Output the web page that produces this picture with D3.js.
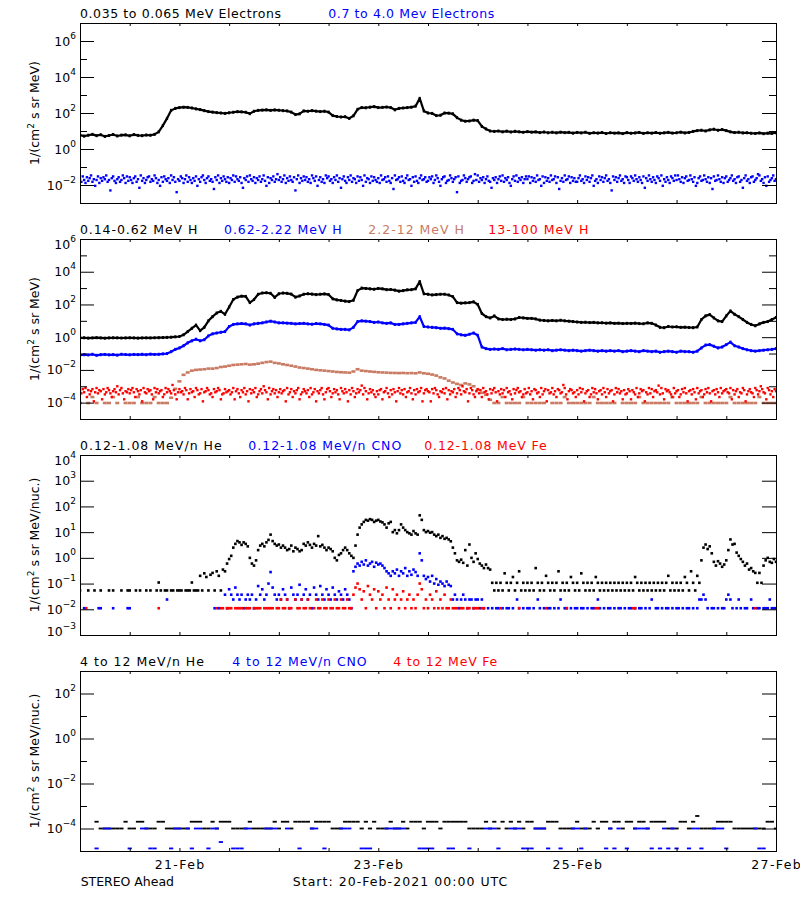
<!DOCTYPE html>
<html>
<head>
<meta charset="utf-8">
<script src="https://cdn.jsdelivr.net/npm/d3@7/dist/d3.min.js"></script>
<style>
html,body{margin:0;padding:0;background:#fff}
svg{display:block}
text{font-family:"DejaVu Sans",sans-serif;font-size:12.5px}
</style>
</head>
<body>
<svg id="chart" width="800" height="900"></svg>
<script>
// ================= DATA =================
const startMs = Date.UTC(2021, 1, 20, 0, 0);   // Start: 20-Feb-2021 00:00 UTC
const HOUR = 3600e3;

// x-axis tick labels
const xTickLabels = ["21-Feb", "23-Feb", "25-Feb", "27-Feb"];
const xTickDays = [21, 23, 25, 27];

// y tick label exponents per panel
const p1TickExps = [6, 4, 2, 0, -2];
const p2TickExps = [6, 4, 2, 0, -2, -4];
const p3TickExps = [4, 3, 2, 1, 0, -1, -2, -3];
const p4TickExps = [2, 0, -2, -4];

// series names
const p1Names = ["0.035 to 0.065 MeV Electrons", "0.7 to 4.0 Mev Electrons"];
const p2Names = ["0.14-0.62 MeV H", "0.62-2.22 MeV H", "2.2-12 MeV H", "13-100 MeV H"];
const p3Names = ["0.12-1.08 MeV/n He", "0.12-1.08 MeV/n CNO", "0.12-1.08 MeV Fe"];
const p4Names = ["4 to 12 MeV/n He", "4 to 12 MeV/n CNO", "4 to 12 MeV Fe"];

// ---- Panel 1: electrons, 1/(cm2 s sr MeV) ----
// 0.035-0.065 MeV electrons, hourly (h0..h168)
const eLow = [
 6.0,5.2,5.8,6.5,5.5,6.2,5.0,5.6,6.4,5.3,5.9,6.1,
 5.4,6.3,5.7,5.5,6.0,5.8,6.5,9,20,50,140,180,
 200,210,205,190,170,155,135,120,112,105,100,95,
 103,110,118,115,110,92,125,140,145,150,140,148,
 142,135,130,112,82,90,130,125,135,126,120,125,
 112,72,64,60,62,50,70,160,200,195,210,225,
 200,205,215,200,150,180,190,200,210,240,650,130,
 100,95,72,75,100,98,90,55,40,35,36,40,
 38,18,13,10,9.5,10,9,9.8,8.8,9.6,9,8.5,
 9.2,8.6,9,8.2,8.8,8,8.5,7.9,8.6,8.1,8.4,7.6,
 8.3,7.8,8.5,7.4,8,7.7,8.2,7.3,8,7.6,7.9,7.2,
 8.1,7.5,7.8,8.3,7.4,8,7.6,8.2,7.5,7.9,8.4,7.7,
 8,8.6,7.8,8.3,9.5,10.5,11,10,11.5,12.5,11,12,
 10.5,9,8.2,8.5,7.8,8,7.5,7.3,7.8,7.1,7.6,7.4,
 8];
// 0.7-4.0 MeV electrons, 20-min (noisy background)
const eHigh = [
 .021,.015,.03,.019,.013,.027,.017,.024,.034,.015,.021,.009,.019,.03,.013,.024,.017,.027,.021,.034,.015,.019,.005,.024,.03,.017,.013,.021,.027,.015,.019,.034,.024,.013,.03,.017,
 .027,.019,.013,.024,.03,.015,.021,.007,.034,.017,.024,.013,.019,.027,.03,.015,.021,.017,.034,.024,.013,.019,.009,.027,.015,.03,.021,.017,.024,.013,.034,.019,.027,.015,.004,.021,
 .017,.03,.024,.013,.021,.034,.015,.027,.019,.013,.024,.017,.03,.009,.021,.015,.027,.034,.019,.013,.024,.03,.017,.021,.015,.006,.027,.019,.034,.013,.024,.017,.03,.021,.015,.027,
 .013,.024,.019,.034,.015,.03,.021,.017,.027,.013,.007,.024,.019,.03,.015,.034,.021,.017,.027,.013,.024,.019,.03,.015,.021,.034,.017,.009,.027,.013,.024,.019,.03,.015,.021,.04,
 .019,.027,.015,.021,.034,.013,.024,.017,.03,.019,.015,.027,.005,.021,.034,.013,.024,.017,.03,.019,.027,.015,.021,.013,.034,.024,.017,.03,.009,.019,.027,.015,.021,.013,.034,.024,
 .03,.017,.021,.013,.027,.019,.034,.015,.024,.007,.021,.03,.017,.013,.027,.019,.034,.015,.024,.021,.013,.03,.017,.027,.019,.009,.034,.015,.024,.021,.013,.03,.017,.027,.019,.015,
 .024,.013,.034,.019,.021,.027,.015,.03,.017,.013,.024,.006,.034,.019,.021,.027,.015,.03,.017,.013,.024,.034,.019,.021,.009,.027,.015,.03,.017,.013,.024,.034,.019,.021,.027,.015,
 .017,.027,.021,.03,.013,.019,.034,.024,.015,.009,.021,.027,.03,.013,.017,.019,.034,.024,.015,.021,.027,.004,.03,.013,.017,.019,.034,.024,.015,.021,.027,.03,.013,.017,.04,.019,
 .034,.015,.024,.019,.027,.013,.021,.03,.017,.015,.007,.024,.019,.027,.013,.021,.03,.017,.034,.015,.024,.019,.027,.013,.009,.021,.03,.017,.034,.015,.024,.019,.027,.013,.021,.03,
 .021,.03,.013,.027,.017,.024,.015,.034,.019,.021,.009,.03,.013,.027,.017,.024,.015,.034,.019,.021,.03,.013,.027,.006,.017,.024,.015,.034,.019,.021,.03,.013,.027,.017,.024,.015,
 .015,.024,.034,.017,.021,.013,.03,.019,.027,.015,.024,.034,.009,.017,.021,.013,.03,.019,.027,.015,.024,.034,.017,.021,.013,.005,.03,.019,.027,.015,.024,.034,.017,.021,.013,.03,
 .027,.019,.013,.03,.024,.017,.034,.021,.015,.027,.019,.013,.03,.007,.024,.017,.034,.021,.015,.027,.019,.013,.03,.024,.017,.034,.009,.021,.015,.027,.019,.013,.03,.024,.017,.034,
 .019,.034,.021,.015,.027,.013,.024,.03,.017,.019,.034,.021,.015,.027,.009,.013,.024,.03,.017,.019,.034,.021,.015,.027,.013,.024,.006,.03,.017,.019,.034,.021,.015,.027,.013,.024,
 .03,.015,.019,.024,.034,.017,.021,.013,.027,.03,.015,.019,.007,.024,.034,.017,.021,.013,.027,.03,.015,.019,.024,.04,.034,.017,.021,.013,.027,.009,.03,.015,.019,.024,.034,.017,
 .021];

// ---- Panel 2: protons, 1/(cm2 s sr MeV) ----
// 0.14-0.62 MeV H, hourly
const hLow = [
 .9,.92,.88,.9,.93,.9,.87,.9,.92,.91,.89,.9,
 .92,.9,.88,.9,.91,.9,.92,.93,.95,.97,1,1.05,
 1.1,1.4,2.2,3.5,5.5,2.5,4,10,18,30,38,25,
 70,200,280,320,310,130,200,420,500,520,480,270,
 450,500,480,430,280,330,420,450,430,400,420,440,
 400,220,190,175,160,150,180,700,1000,950,900,850,
 950,900,800,820,750,650,700,780,800,900,2500,450,
 420,380,400,420,420,380,300,130,120,125,130,145,
 100,28,18,15,20,13,12,12.5,12,13,16,15,
 14,14,13,11,10.5,10,10.5,10,10.8,10,9.5,9,
 8.5,8,8.2,7.8,8,7.5,7.6,7.2,7.5,7,7.2,6.8,
 7,6.9,7.2,6.8,6.6,7.5,7,5.5,4,3.8,4.5,4.2,
 4.3,4,4.1,3.9,3.8,4.2,12,20,24,15,10,9,
 20,40,25,18,12,8,6,5,6.5,8,9,12,
 16];
// 0.62-2.22 MeV H, hourly
const hMid = [
 .08,.085,.082,.09,.078,.085,.088,.083,.086,.08,.09,.087,
 .084,.088,.086,.09,.085,.092,.088,.09,.095,.1,.13,.18,
 .22,.3,.45,.6,.75,.6,.7,1.2,1.6,1.8,2,2.2,
 4.5,6,6.5,6.8,6.5,5.5,6.5,7,7.5,8.5,9.5,8.5,
 7.5,7.5,7.2,7,6.5,6.8,7,6.5,6.2,6.8,6.5,6,
 5.5,3.5,3.2,3,3,2.8,4,9,10,9.5,9,8,
 8.5,7.5,7,7.5,6,6,6.5,7,7.5,8,18,4.5,
 4.2,4,3.8,3.5,3.6,3.3,3,1.6,1.4,1.3,1.5,1.8,
 1.3,.25,.2,.18,.19,.18,.2,.17,.18,.19,.18,.17,
 .18,.17,.16,.17,.16,.17,.15,.16,.17,.16,.15,.16,
 .15,.14,.15,.16,.15,.14,.15,.14,.15,.14,.15,.13,
 .14,.15,.14,.13,.15,.14,.13,.14,.12,.13,.14,.13,
 .12,.14,.13,.13,.12,.14,.22,.33,.35,.28,.22,.25,
 .35,.5,.3,.25,.2,.17,.15,.14,.15,.16,.17,.18,
 .2];
// 2.2-12 MeV H, hourly
const hHigh = [
 9.5e-5,0,9.5e-5,2.2e-4,9.5e-5,0,9.5e-5,9.5e-5,2.2e-4,9.5e-5,0,9.5e-5,
 9.5e-5,9.5e-5,2.2e-4,9.5e-5,9.5e-5,9.5e-5,2.2e-4,9.5e-5,9.5e-5,9.5e-5,2e-4,7e-4,
 2e-3,5e-3,7e-3,9e-3,.01,.0105,.011,.012,.012,.013,.015,.016,
 .018,.02,.021,.022,.023,.021,.022,.024,.027,.03,.032,.027,
 .025,.022,.02,.018,.016,.014,.013,.012,.011,.01,.0095,.009,
 .0085,.008,.0075,.0072,.007,.0068,.008,.011,.009,.0085,.008,.0076,
 .0072,.007,.0068,.0066,.0065,.0064,.0065,.0063,.0064,.0062,.007,.0062,
 .0058,.0052,.0045,.0035,.003,.0022,.0017,.0014,.0012,.0015,.0013,.001,
 6e-4,4e-4,3e-4,1.5e-4,9.5e-5,9.5e-5,2.2e-4,9.5e-5,9.5e-5,9.5e-5,9.5e-5,2.2e-4,
 9.5e-5,9.5e-5,9.5e-5,9.5e-5,9.5e-5,0,9.5e-5,9.5e-5,9.5e-5,2.2e-4,9.5e-5,9.5e-5,
 9.5e-5,9.5e-5,9.5e-5,9.5e-5,2.2e-4,9.5e-5,9.5e-5,9.5e-5,9.5e-5,9.5e-5,0,9.5e-5,
 9.5e-5,9.5e-5,9.5e-5,2.2e-4,9.5e-5,9.5e-5,9.5e-5,9.5e-5,9.5e-5,9.5e-5,9.5e-5,2.2e-4,
 9.5e-5,9.5e-5,9.5e-5,9.5e-5,9.5e-5,9.5e-5,2.2e-4,9.5e-5,9.5e-5,9.5e-5,9.5e-5,9.5e-5,
 9.5e-5,2.2e-4,9.5e-5,9.5e-5,9.5e-5,9.5e-5,9.5e-5,9.5e-5,2.2e-4,9.5e-5,9.5e-5,9.5e-5,
 9.5e-5];
// 13-100 MeV H, 20-min (noisy background)
const hVHigh = [
 5e-4,3.7e-4,6.7e-4,4.3e-4,7.8e-4,2.2e-4,5.8e-4,3.2e-4,5e-4,6.7e-4,1.2e-4,4.3e-4,7.8e-4,3.7e-4,5.8e-4,5e-4,1.6e-4,6.7e-4,3.2e-4,4.3e-4,7.8e-4,5.8e-4,3.7e-4,2.2e-4,5e-4,6.7e-4,4.3e-4,1e-3,3.2e-4,5.8e-4,7.8e-4,3.7e-4,1.6e-4,5e-4,4.3e-4,6.7e-4,
 3.7e-4,5.8e-4,7.8e-4,4.3e-4,2.2e-4,6.7e-4,5e-4,3.2e-4,5.8e-4,1.2e-4,7.8e-4,4.3e-4,3.7e-4,6.7e-4,5e-4,5.8e-4,3.2e-4,1.6e-4,7.8e-4,4.3e-4,6.7e-4,3.7e-4,5e-4,5.8e-4,2.2e-4,3.2e-4,7.8e-4,4.3e-4,6.7e-4,5e-4,3.7e-4,1.2e-3,5.8e-4,3.2e-4,1.6e-4,4.3e-4,
 6.7e-4,4.3e-4,5e-4,3.2e-4,7.8e-4,5.8e-4,1.6e-4,3.7e-4,6.7e-4,4.3e-4,5e-4,2.2e-4,7.8e-4,5.8e-4,3.2e-4,3.7e-4,6.7e-4,1.2e-4,4.3e-4,5e-4,7.8e-4,5.8e-4,3.2e-4,3.7e-4,2.2e-4,6.7e-4,4.3e-4,5e-4,7.8e-4,5.8e-4,1.6e-4,3.2e-4,3.7e-4,6.7e-4,4.3e-4,5e-4,
 5.8e-4,3.2e-4,4.3e-4,7.8e-4,1.6e-4,5e-4,6.7e-4,3.7e-4,2.2e-4,5.8e-4,4.3e-4,7.8e-4,3.2e-4,5e-4,1.2e-4,6.7e-4,3.7e-4,5.8e-4,4.3e-4,7.8e-4,2.2e-4,3.2e-4,5e-4,6.7e-4,3.7e-4,1e-3,5.8e-4,4.3e-4,1.6e-4,7.8e-4,3.2e-4,5e-4,6.7e-4,3.7e-4,5.8e-4,2.2e-4,
 4.3e-4,6.7e-4,3.7e-4,5e-4,5.8e-4,1.2e-4,7.8e-4,3.2e-4,4.3e-4,6.7e-4,2.2e-4,5e-4,3.7e-4,5.8e-4,7.8e-4,1.6e-4,3.2e-4,4.3e-4,6.7e-4,5e-4,3.7e-4,5.8e-4,2.2e-4,7.8e-4,3.2e-4,4.3e-4,6.7e-4,1.2e-4,5e-4,3.7e-4,5.8e-4,7.8e-4,3.2e-4,1.6e-4,4.3e-4,6.7e-4,
 7.8e-4,5e-4,2.2e-4,3.7e-4,6.7e-4,4.3e-4,5.8e-4,3.2e-4,1.6e-4,7.8e-4,5e-4,3.7e-4,6.7e-4,4.3e-4,1.2e-4,5.8e-4,3.2e-4,7.8e-4,5e-4,2.2e-4,3.7e-4,6.7e-4,4.3e-4,5.8e-4,1.1e-3,3.2e-4,7.8e-4,5e-4,1.6e-4,3.7e-4,6.7e-4,4.3e-4,5.8e-4,3.2e-4,2.2e-4,5e-4,
 3.2e-4,5.8e-4,6.7e-4,1.6e-4,4.3e-4,5e-4,7.8e-4,3.7e-4,2.2e-4,5.8e-4,3.2e-4,6.7e-4,4.3e-4,1.2e-4,5e-4,7.8e-4,3.7e-4,5.8e-4,3.2e-4,6.7e-4,2.2e-4,4.3e-4,5e-4,7.8e-4,3.7e-4,1.6e-4,5.8e-4,3.2e-4,6.7e-4,4.3e-4,5e-4,7.8e-4,1.2e-4,3.7e-4,5.8e-4,6.7e-4,
 5e-4,4.3e-4,1.2e-4,6.7e-4,3.7e-4,7.8e-4,5.8e-4,3.2e-4,2.2e-4,5e-4,4.3e-4,6.7e-4,3.7e-4,7.8e-4,1.6e-4,5.8e-4,3.2e-4,5e-4,4.3e-4,6.7e-4,2.2e-4,3.7e-4,7.8e-4,5.8e-4,3.2e-4,1e-3,5e-4,4.3e-4,6.7e-4,1.2e-4,3.7e-4,7.8e-4,5.8e-4,3.2e-4,2.2e-4,5e-4,
 6.7e-4,3.7e-4,5.8e-4,2.2e-4,7.8e-4,4.3e-4,5e-4,3.2e-4,1.6e-4,6.7e-4,3.7e-4,5.8e-4,7.8e-4,4.3e-4,1.2e-4,5e-4,3.2e-4,6.7e-4,3.7e-4,5.8e-4,2.2e-4,7.8e-4,4.3e-4,5e-4,3.2e-4,1.6e-4,6.7e-4,3.7e-4,5.8e-4,7.8e-4,4.3e-4,5e-4,2.2e-4,3.2e-4,6.7e-4,3.7e-4,
 4.3e-4,7.8e-4,3.2e-4,5e-4,1.6e-4,6.7e-4,5.8e-4,3.7e-4,4.3e-4,2.2e-4,7.8e-4,3.2e-4,5e-4,6.7e-4,1.2e-4,5.8e-4,3.7e-4,4.3e-4,7.8e-4,3.2e-4,5e-4,2.2e-4,6.7e-4,5.8e-4,3.7e-4,4.3e-4,1.2e-3,7.8e-4,3.2e-4,1.6e-4,5e-4,6.7e-4,5.8e-4,3.7e-4,4.3e-4,2.2e-4,
 5.8e-4,3.2e-4,7.8e-4,4.3e-4,6.7e-4,1.2e-4,3.7e-4,5e-4,5.8e-4,2.2e-4,3.2e-4,7.8e-4,4.3e-4,6.7e-4,3.7e-4,1.6e-4,5e-4,5.8e-4,3.2e-4,7.8e-4,4.3e-4,2.2e-4,6.7e-4,3.7e-4,5e-4,5.8e-4,1.2e-4,3.2e-4,7.8e-4,4.3e-4,6.7e-4,3.7e-4,5e-4,1.6e-4,5.8e-4,3.2e-4,
 3.7e-4,6.7e-4,5e-4,1.6e-4,5.8e-4,4.3e-4,3.2e-4,7.8e-4,2.2e-4,3.7e-4,6.7e-4,5e-4,5.8e-4,1.2e-4,4.3e-4,3.2e-4,7.8e-4,3.7e-4,6.7e-4,2.2e-4,5e-4,5.8e-4,4.3e-4,1.1e-3,3.2e-4,7.8e-4,3.7e-4,1.6e-4,6.7e-4,5e-4,5.8e-4,4.3e-4,3.2e-4,2.2e-4,7.8e-4,3.7e-4,
 5e-4,5.8e-4,2.2e-4,3.2e-4,6.7e-4,4.3e-4,7.8e-4,3.7e-4,1.2e-4,5e-4,5.8e-4,3.2e-4,6.7e-4,4.3e-4,1.6e-4,7.8e-4,3.7e-4,5e-4,5.8e-4,2.2e-4,3.2e-4,6.7e-4,4.3e-4,7.8e-4,3.7e-4,1.2e-4,5e-4,5.8e-4,3.2e-4,6.7e-4,4.3e-4,2.2e-4,7.8e-4,3.7e-4,5e-4,5.8e-4,
 6.7e-4,4.3e-4,3.7e-4,7.8e-4,1.6e-4,5.8e-4,3.2e-4,5e-4,6.7e-4,2.2e-4,4.3e-4,3.7e-4,7.8e-4,5.8e-4,1.2e-4,3.2e-4,5e-4,6.7e-4,4.3e-4,3.7e-4,2.2e-4,7.8e-4,5.8e-4,3.2e-4,5e-4,1e-3,6.7e-4,4.3e-4,3.7e-4,1.6e-4,7.8e-4,5.8e-4,3.2e-4,5e-4,2.2e-4,6.7e-4,
 5e-4];

// ---- Panel 3: 0.12-1.08 MeV/n ions, 30-min (0 = no counts) ----
const he012 = [
 .054,0,0,0,.054,0,0,.054,0,0,.054,0,0,0,.054,0,.054,0,0,0,.054,0,0,.054,
 .054,0,0,.054,0,.054,0,0,.054,0,.054,0,0,.054,.11,.054,0,.054,.054,0,.054,.054,0,.054,
 .054,.054,0,.054,.054,.054,.11,.054,.054,.054,.2,.054,.25,.18,.054,.22,.26,.054,.3,.2,.054,.35,.3,.6,
 .9,1.2,2.5,3.5,4.5,4,3.2,4,3.5,2.8,1,.6,.5,.8,2,3,3.5,2.8,4,5,8,4.5,3.5,3,
 3.3,2.5,3,2.5,2,2.2,3,1.8,2.5,2.2,1.8,2,3.5,3,4,3.2,2.5,3.5,3,7,2.8,3.2,2.5,2,
 2.5,2.2,1.8,1,.8,1.3,1.5,2,2.5,2,1.5,1.2,1,3,8,15,20,25,30,28,32,30,25,28,
 30,26,24,20,15,22,25,10,12,9,12,20,15,12,10,9,8,11,9,8,45,30,12,10,
 11,9.5,10,8,7,8,6,7,5.5,6,5.2,4.4,2.5,1.5,.8,.7,.85,.64,2,.5,3.3,1,.7,1.5,
 .9,.6,.5,.4,.55,.4,.35,.107,.054,.107,.054,.107,.054,.25,.107,.054,.107,.18,.054,.107,.3,.054,.107,.054,
 .107,.054,.107,.054,.4,.107,.054,.107,.054,.2,.107,.054,.107,.054,.107,.3,.054,.107,.054,.107,.054,.18,.107,.054,
 .107,.054,.25,.107,.054,.107,.054,.107,.054,.18,.107,.054,.107,.054,.107,.054,.107,.054,.107,.054,.107,.054,.107,.054,
 .107,.054,.107,.054,.18,.107,.054,.107,.054,.107,.054,.107,.054,.107,.054,.107,.054,.107,.054,.107,.2,.054,.107,.054,
 .107,.054,.107,.054,.18,.107,.054,.3,.107,.054,.2,.107,.8,2.5,3.3,2.2,2.8,1.5,.7,.5,.74,.6,.45,.55,
 .8,2,5.2,3.3,3.5,1.6,1.2,.9,.7,.5,.6,.35,.4,.3,.26,.107,.26,.107,.5,.8,1,.7,.64,.9,
 .7];
const cno012 = [
 0,0,.011,0,0,0,0,0,0,.011,.011,0,0,0,0,0,.011,0,0,0,0,0,0,.011,
 .011,0,0,0,0,0,0,0,0,0,0,0,0,0,0,0,0,0,.024,0,0,0,0,0,
 0,0,0,0,0,0,0,0,0,0,0,0,0,0,0,0,0,.011,0,.011,0,0,.037,.011,
 .06,.037,.024,.07,.037,.024,.037,.011,.024,.037,.024,.037,.011,.024,.08,.037,.06,.024,.037,.1,.28,.07,.037,.024,
 .037,.024,.06,.037,.024,.011,.07,.037,.024,.037,.09,.024,.037,.06,.024,.037,.011,.07,.037,.024,.08,.037,.024,.06,
 .037,.024,.07,.037,.024,.05,.037,.024,.06,.037,.024,.011,.3,.45,.6,.5,.7,.55,.8,.5,.6,.7,.45,.65,
 .55,.6,.5,.4,.3,.25,.2,.3,.25,.35,.2,.3,.25,.4,.2,.3,.22,.35,.28,.2,1.5,.8,.2,.15,
 .18,.12,.2,.1,.15,.09,.12,.1,.08,.12,.09,.08,.024,.037,.024,.011,.024,.037,.024,.011,.024,.024,.011,.024,
 .024,.011,.024,.011,0,.011,0,.011,0,.011,.011,0,.011,0,.011,.011,0,.011,0,.024,.011,0,.011,0,
 .011,.011,0,.011,0,.024,.011,0,.011,0,.011,.011,0,.011,0,.011,.024,0,.011,.011,0,.011,0,.011,
 .011,0,.011,.011,0,.011,0,.011,.011,0,.024,.011,0,.011,0,.011,.011,0,.011,0,.011,.011,0,.011,
 0,.011,.011,0,.011,0,.011,.011,0,.011,0,.011,.024,0,.011,.011,0,.011,0,.011,.011,0,.011,0,
 .011,.011,0,.011,0,.011,.011,0,.011,0,.011,.024,.024,.037,.024,.011,0,.011,.011,0,.011,0,.011,.011,
 .024,.037,.024,.011,0,.011,.024,.011,0,.011,.011,0,.024,.011,0,.011,.011,0,.011,.011,.011,.024,.011,.011,
 .011];
const fe012 = [
 0,0,0,.011,0,0,0,0,0,0,0,0,0,0,0,0,0,0,0,0,0,0,0,0,
 0,0,0,0,0,0,0,0,0,0,0,0,0,0,.011,0,0,0,0,0,0,0,0,0,
 0,0,0,0,0,0,0,0,0,0,0,0,0,0,0,0,0,0,.011,0,.011,.011,0,.011,
 .011,.011,0,.011,.011,.011,.011,0,.011,.011,.011,0,.011,.011,.011,.011,0,.011,.011,.011,.011,.011,0,.011,
 .011,.024,.011,.011,.024,.011,.011,0,.024,.011,.011,.024,.011,.011,.024,.011,0,.011,.024,.011,.011,.024,.011,.011,
 .024,.011,.011,.024,.011,.011,.024,.011,.011,.024,.011,.011,.037,.07,.1,.06,.024,.05,.011,.08,.037,.024,.06,.011,
 .05,.024,.037,.011,.07,.024,.011,.06,.024,.037,.011,.024,.05,.011,.024,.037,.011,.024,.011,.037,.1,.06,.011,.024,
 .011,.037,.024,.011,.05,.011,.024,.011,.037,.011,.011,.024,.011,.011,.011,0,.011,.011,0,.011,.011,0,.011,.011,
 .011,0,.011,.011,0,0,0,0,0,0,0,.011,0,0,0,0,0,0,0,0,.011,0,0,0,
 0,0,0,0,0,0,0,0,0,.011,0,0,0,0,0,0,0,0,0,.011,0,0,0,0,
 0,0,0,0,0,0,0,0,0,.011,.011,0,0,0,0,0,0,0,0,0,0,0,0,0,
 0,0,0,.011,.011,0,0,0,0,0,0,0,0,0,0,0,0,0,0,0,0,0,0,0,
 0,0,0,0,0,0,0,0,0,0,0,0,0,0,0,0,0,0,0,0,0,0,0,0,
 0,0,0,0,0,0,0,0,0,0,0,0,0,0,.011,0,0,0,0,0,0,0,0,0,
 0];

// ---- Panel 4: 4-12 MeV/n ions, hourly (0 = no counts) ----
const he412 = [
 0,0,0,0,2e-4,1e-4,1e-4,1e-4,1e-4,1e-4,1e-4,2e-4,
 1e-4,1e-4,2e-4,2e-4,1e-4,1e-4,1e-4,2e-4,2e-4,1e-4,1e-4,1e-4,
 1e-4,1e-4,1e-4,2e-4,2e-4,2e-4,1e-4,1e-4,2e-4,1e-4,2e-4,2e-4,
 2e-4,1e-4,1e-4,1e-4,1e-4,2e-4,1e-4,1e-4,1e-4,1e-4,1e-4,2e-4,
 1e-4,2e-4,2e-4,1e-4,2e-4,2e-4,2e-4,2e-4,1e-4,2e-4,2e-4,2e-4,
 2e-4,1e-4,1e-4,1e-4,2e-4,2e-4,2e-4,2e-4,1e-4,2e-4,1e-4,2e-4,
 1e-4,1e-4,1e-4,2e-4,1e-4,1e-4,2e-4,1e-4,2e-4,2e-4,2e-4,1e-4,
 2e-4,2e-4,2e-4,1e-4,2e-4,2e-4,2e-4,2e-4,2e-4,2e-4,1e-4,1e-4,
 1e-4,1e-4,2e-4,1e-4,2e-4,1e-4,2e-4,1e-4,2e-4,1e-4,2e-4,1e-4,
 2e-4,2e-4,1e-4,1e-4,1e-4,2e-4,2e-4,2e-4,1e-4,1e-4,1e-4,1e-4,
 2e-4,1e-4,1e-4,1e-4,2e-4,1e-4,2e-4,2e-4,1e-4,2e-4,2e-4,1e-4,
 2e-4,2e-4,1e-4,2e-4,2e-4,1e-4,2e-4,2e-4,2e-4,2e-4,1e-4,1e-4,
 1e-4,2e-4,2e-4,1e-4,2e-4,3.6e-4,1e-4,1e-4,1e-4,1e-4,2e-4,2e-4,
 2e-4,2e-4,1e-4,1e-4,1e-4,1e-4,1e-4,1e-4,1e-4,1e-4,2e-4,2e-4,
 1e-4];
const cno412 = [
 0,0,0,0,1.3e-5,0,1e-4,1e-4,0,0,0,0,
 1.3e-5,0,0,1e-4,1e-4,1.3e-5,1.3e-5,0,0,0,1.3e-5,1e-4,
 1e-4,0,1e-4,1.3e-5,1e-4,1e-4,0,1.3e-5,1e-4,1e-4,2.5e-5,0,
 0,1.3e-5,1.3e-5,1.3e-5,1e-4,1e-4,0,0,0,1e-4,1e-4,1e-4,
 0,0,1e-4,0,0,1.3e-5,0,0,1e-4,1e-4,0,1.3e-5,
 0,0,0,1e-4,1e-4,1e-4,0,0,1.3e-5,1.3e-5,1.3e-5,0,
 0,0,1e-4,1e-4,1e-4,1e-4,1e-4,0,0,0,1.3e-5,1.3e-5,
 1.3e-5,1.3e-5,0,0,0,1.3e-5,1.3e-5,0,0,0,1.3e-5,0,
 0,0,1e-4,1e-4,1e-4,1.3e-5,0,0,1e-4,1e-4,1e-4,1.3e-5,
 1.3e-5,1.3e-5,1e-4,1e-4,1e-4,1.3e-5,0,0,1.3e-5,0,0,1e-4,
 1e-4,1.3e-5,1e-4,0,0,0,0,1.3e-5,1e-4,1.3e-5,1e-4,0,
 1.3e-5,0,1e-4,1e-4,1e-4,1e-4,1.3e-5,0,1.3e-5,1e-4,1.3e-5,1e-4,
 1.3e-5,0,0,1.3e-5,1e-4,1e-4,1.3e-5,0,0,1e-4,1e-4,1e-4,
 1.3e-5,0,0,0,0,0,0,1e-4,1.3e-5,1.3e-5,0,0,
 0];
const fe412 = [];   // no counts above the plotted range

// ================= LAYOUT / STYLE =================
const COL = {black: "#000000", blue: "#0000ff", brown: "#c97b63", red: "#ff0000"};
const X0 = 80, X1 = 776, PH = 180;

const panels = [
  { top: 23, domain: [1e-3, 1e7], majors: [-2, 0, 2, 4, 6], minors: [-1, 1, 3, 5], labels: p1TickExps,
    unit: " s sr MeV)", names: p1Names, nameX: [80, 328.3], nameW: [201, 166],
    series: [
      {data: eLow,  step: 1,     color: COL.black, line: 2.2, dot: [2.2, 3]},
      {data: eHigh, step: 1 / 3, color: COL.blue,  dot: [2.4, 2.4]} ] },
  { top: 239, domain: [1e-5, 1e6], majors: [-4, -2, 0, 2, 4, 6], minors: [-3, -1, 1, 3, 5], labels: p2TickExps,
    unit: " s sr MeV)", names: p2Names, nameX: [80, 224, 368.3, 488.3], nameW: [117.3, 117.7, 95.7, 100],
    series: [
      {data: hLow,   step: 1,     color: COL.black, line: 2.2, dot: [2.2, 3]},
      {data: hMid,   step: 1,     color: COL.blue,  line: 2.2, dot: [2.2, 3]},
      {data: hHigh,  step: 1,     color: COL.brown, dot: [4, 2.6]},
      {data: hVHigh, step: 1 / 3, color: COL.red,   dot: [2.4, 2.4]} ] },
  { top: 455, domain: [1e-3, 1e4], majors: [-2, -1, 0, 1, 2, 3], minors: [], labels: p3TickExps,
    unit: " s sr MeV/nuc.)", names: p3Names, nameX: [80, 248.3, 424.3], nameW: [141.7, 153, 122.4],
    series: [
      {data: he012,  step: 0.5, color: COL.black, dot: [2.6, 2.6]},
      {data: cno012, step: 0.5, color: COL.blue,  dot: [2.6, 2.6]},
      {data: fe012,  step: 0.5, color: COL.red,   dot: [2.6, 2.6]} ] },
  { top: 671, domain: [1e-5, 1e3], majors: [-4, -2, 0, 2], minors: [-3, -1, 1], labels: p4TickExps,
    unit: " s sr MeV/nuc.)", names: p4Names, nameX: [80, 232.3, 393.3], nameW: [124, 134.4, 104],
    series: [
      {data: he412,  step: 1, color: COL.black, dot: [4.2, 1.8]},
      {data: cno412, step: 1, color: COL.blue,  dot: [4.2, 1.8]},
      {data: fe412,  step: 1, color: COL.red,   dot: [4.2, 1.8]} ] }
];
const nameColors = [[COL.black, COL.blue], [COL.black, COL.blue, COL.brown, COL.red],
                    [COL.black, COL.blue, COL.red], [COL.black, COL.blue, COL.red]];

// ================= DRAW =================
const svg = d3.select("#chart");
svg.append("rect").attr("width", 800).attr("height", 900).attr("fill", "#fff");

const x = d3.scaleUtc()
  .domain([new Date(startMs), new Date(startMs + 7 * 24 * HOUR)])
  .range([X0, X1]);
const tickTimes = d3.utcHour.every(12).range(new Date(startMs), new Date(startMs + 7 * 24 * HOUR + 1));
const defs = svg.append("defs");

panels.forEach((p, pi) => {
  const bottom = p.top + PH;
  const y = d3.scaleLog().domain(p.domain).range([bottom, p.top]);
  const g = svg.append("g");

  defs.append("clipPath").attr("id", "clip" + pi)
    .append("rect").attr("x", X0).attr("y", p.top).attr("width", X1 - X0).attr("height", PH);
  const plot = g.append("g").attr("clip-path", `url(#clip${pi})`);

  p.series.forEach(s => {
    const pts = s.data.map((v, i) => ({t: new Date(startMs + i * s.step * HOUR), v}));
    if (s.line) {
      plot.append("path").datum(pts)
        .attr("fill", "none").attr("stroke", s.color).attr("stroke-width", s.line)
        .attr("stroke-linejoin", "round")
        .attr("d", d3.line().defined(d => d.v > 0).x(d => x(d.t)).y(d => y(d.v)));
    }
    if (s.dot) {
      plot.append("g").selectAll("rect").data(pts.filter(d => d.v > 0)).join("rect")
        .attr("x", d => x(d.t) - s.dot[0] / 2).attr("y", d => y(d.v) - s.dot[1] / 2)
        .attr("width", s.dot[0]).attr("height", s.dot[1]).attr("fill", s.color);
    }
  });

  // y ticks (left + right, inward)
  const majorV = p.majors.map(e => Math.pow(10, e));
  const minorV = p.minors.map(e => Math.pow(10, e));
  const strip = sel => sel.select(".domain").remove();
  g.append("g").attr("transform", `translate(${X0},0)`)
    .call(d3.axisLeft(y).tickValues(majorV).tickSize(-14).tickFormat("")).call(strip);
  g.append("g").attr("transform", `translate(${X1},0)`)
    .call(d3.axisRight(y).tickValues(majorV).tickSize(-14).tickFormat("")).call(strip);
  if (minorV.length) {
    g.append("g").attr("transform", `translate(${X0},0)`)
      .call(d3.axisLeft(y).tickValues(minorV).tickSize(-7).tickFormat("")).call(strip);
    g.append("g").attr("transform", `translate(${X1},0)`)
      .call(d3.axisRight(y).tickValues(minorV).tickSize(-7).tickFormat("")).call(strip);
  }
  // x ticks (top + bottom, inward)
  g.append("g").attr("transform", `translate(0,${bottom})`)
    .call(d3.axisBottom(x).tickValues(tickTimes).tickSize(-3).tickFormat("")).call(strip);
  g.append("g").attr("transform", `translate(0,${p.top})`)
    .call(d3.axisTop(x).tickValues(tickTimes).tickSize(-3).tickFormat("")).call(strip);

  // frame
  g.append("rect").attr("x", X0 + 0.5).attr("y", p.top + 0.5)
    .attr("width", X1 - X0).attr("height", PH)
    .attr("fill", "none").attr("stroke", "#000").attr("stroke-width", 1);

  // y tick labels 10^n
  p.labels.forEach(e => {
    let ty = y(Math.pow(10, e));
    if (ty - p.top < 3) ty += 5;
    if (bottom - ty < 3) ty -= 4;
    const t = g.append("text").attr("x", 76).attr("y", ty + 4.5).attr("text-anchor", "end").attr("fill", "#000");
    t.append("tspan").text("10");
    t.append("tspan").attr("dy", -7).attr("font-size", "9px")
      .text(e < 0 ? "\u2212" + Math.abs(e) : String(e));
  });

  // y title
  const yt = g.append("text")
    .attr("transform", `translate(39,${p.top + PH / 2}) rotate(-90)`)
    .attr("text-anchor", "middle").attr("fill", "#000");
  yt.append("tspan").text("1/(cm");
  yt.append("tspan").attr("dy", -5).attr("font-size", "9px").text("2");
  yt.append("tspan").attr("dy", 5).text(p.unit);

  // series names above panel
  p.names.forEach((n, i) => {
    g.append("text").attr("x", p.nameX[i]).attr("y", p.top - 5)
      .attr("fill", nameColors[pi][i])
      .attr("textLength", p.nameW[i]).attr("lengthAdjust", "spacing")
      .text(n);
  });

  // date labels under last panel
  if (pi === panels.length - 1) {
    xTickLabels.forEach((lab, i) => {
      g.append("text").attr("x", x(new Date(Date.UTC(2021, 1, xTickDays[i])))).attr("y", bottom + 18)
        .attr("text-anchor", "middle").attr("textLength", 49.5).attr("lengthAdjust", "spacing")
        .text(lab);
    });
  }
});

svg.append("text").attr("x", 80.7).attr("y", 885.5)
  .attr("textLength", 93.3).attr("lengthAdjust", "spacing").text("STEREO Ahead");
svg.append("text").attr("x", 292.7).attr("y", 885.5)
  .attr("textLength", 214.6).attr("lengthAdjust", "spacing").text("Start: 20-Feb-2021 00:00 UTC");
</script>
</body>
</html>
